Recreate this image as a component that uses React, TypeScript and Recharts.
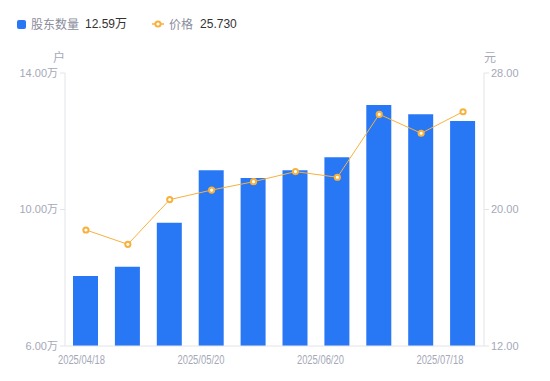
import { ComposedChart, Bar, Line, XAxis, YAxis } from "recharts";

// data
const dates = [
  "2025/04/18",
  "2025/04/30",
  "2025/05/09",
  "2025/05/20",
  "2025/05/30",
  "2025/06/10",
  "2025/06/20",
  "2025/06/30",
  "2025/07/10",
  "2025/07/18",
];
const holders = [8.05, 8.32, 9.61, 11.15, 10.92, 11.15, 11.53, 13.06, 12.79, 12.59];
const prices = [18.8, 17.96, 20.58, 21.14, 21.63, 22.22, 21.89, 25.58, 24.47, 25.73];
const leftTicks = [6, 10, 14];
const rightTicks = [12, 20, 28];

const BLUE = "#2878f5";
const ORANGE = "#f8b13c";
const AXIS = "#e3e4e8";
const TICK = "#a5a8b8";
const FONT = "'Noto Sans CJK SC', 'Noto Sans', sans-serif";
const NUM = "'Liberation Sans', 'Noto Sans CJK SC', sans-serif";

const rows = dates.map((d, i) => ({ date: d, holders: holders[i], price: prices[i] }));

// labels in the original are spread evenly across the axis, not centred on bars
const DateTick = (props: any) => {
  const { x, y, payload } = props;
  const shift = -4.5 - payload.index * 2.07;
  return (
    <text
      x={x + shift}
      y={y + 10}
      textAnchor="middle"
      fill={TICK}
      fontSize={12}
      fontFamily={NUM}
      textLength={47}
      lengthAdjust="spacingAndGlyphs"
    >
      {payload.value}
    </text>
  );
};

export default function App() {
  return (
    <div style={{ position: "absolute", left: 0, top: 0, width: 550, height: 381, fontFamily: FONT }}>
      {/* legend */}
      <div style={{ position: "absolute", left: 17, top: 15, display: "flex", alignItems: "center", fontSize: 12, lineHeight: "18px", fontFamily: NUM }}>
        <span style={{ width: 9, height: 9, background: BLUE, borderRadius: 2, display: "inline-block" }} />
        <span style={{ color: "#8a8d9c", marginLeft: 5, fontFamily: FONT }}>股东数量</span>
        <span style={{ color: "#333", marginLeft: 6 }}>12.59万</span>
        <svg width={12} height={10} style={{ marginLeft: 25 }}>
          <line x1={0} y1={5} x2={12} y2={5} stroke={ORANGE} strokeWidth={1.5} />
          <circle cx={6} cy={5} r={2.6} fill="#fff" stroke={ORANGE} strokeWidth={2} />
        </svg>
        <span style={{ color: "#8a8d9c", marginLeft: 5, fontFamily: FONT }}>价格</span>
        <span style={{ color: "#333", marginLeft: 7 }}>25.730</span>
      </div>
      <div style={{ position: "absolute", left: 53, top: 48, fontSize: 12, color: TICK }}>户</div>
      <div style={{ position: "absolute", left: 484, top: 48, fontSize: 12, color: TICK }}>元</div>

      <ComposedChart
        width={550}
        height={381}
        data={rows}
        margin={{ top: 73, right: 6, bottom: 5, left: 8 }}
      >
        <XAxis
          dataKey="date"
          interval={2}
          tickLine={false}
          axisLine={{ stroke: AXIS }}
          height={30}
          tick={<DateTick />}
        />
        <YAxis
          yAxisId="l"
          domain={[6, 14]}
          ticks={leftTicks}
          width={57}
          tickFormatter={(v: number) => v.toFixed(2) + "万"}
          tick={{ fill: TICK, fontSize: 11, fontFamily: NUM }}
          tickLine={{ stroke: AXIS }}
          tickSize={5}
          axisLine={{ stroke: AXIS }}
        />
        <YAxis
          yAxisId="r"
          orientation="right"
          domain={[12, 28]}
          ticks={rightTicks}
          width={60}
          tickFormatter={(v: number) => v.toFixed(2)}
          tick={{ fill: TICK, fontSize: 11, fontFamily: NUM }}
          tickLine={{ stroke: AXIS }}
          tickSize={5}
          axisLine={{ stroke: AXIS }}
        />
        <Bar yAxisId="l" dataKey="holders" fill={BLUE} barSize={25} isAnimationActive={false} />
        <Line
          yAxisId="r"
          dataKey="price"
          type="linear"
          stroke={ORANGE}
          strokeWidth={1}
          dot={{ r: 2.6, fill: "#fff", stroke: ORANGE, strokeWidth: 2 }}
          activeDot={false}
          isAnimationActive={false}
        />
      </ComposedChart>
    </div>
  );
}
